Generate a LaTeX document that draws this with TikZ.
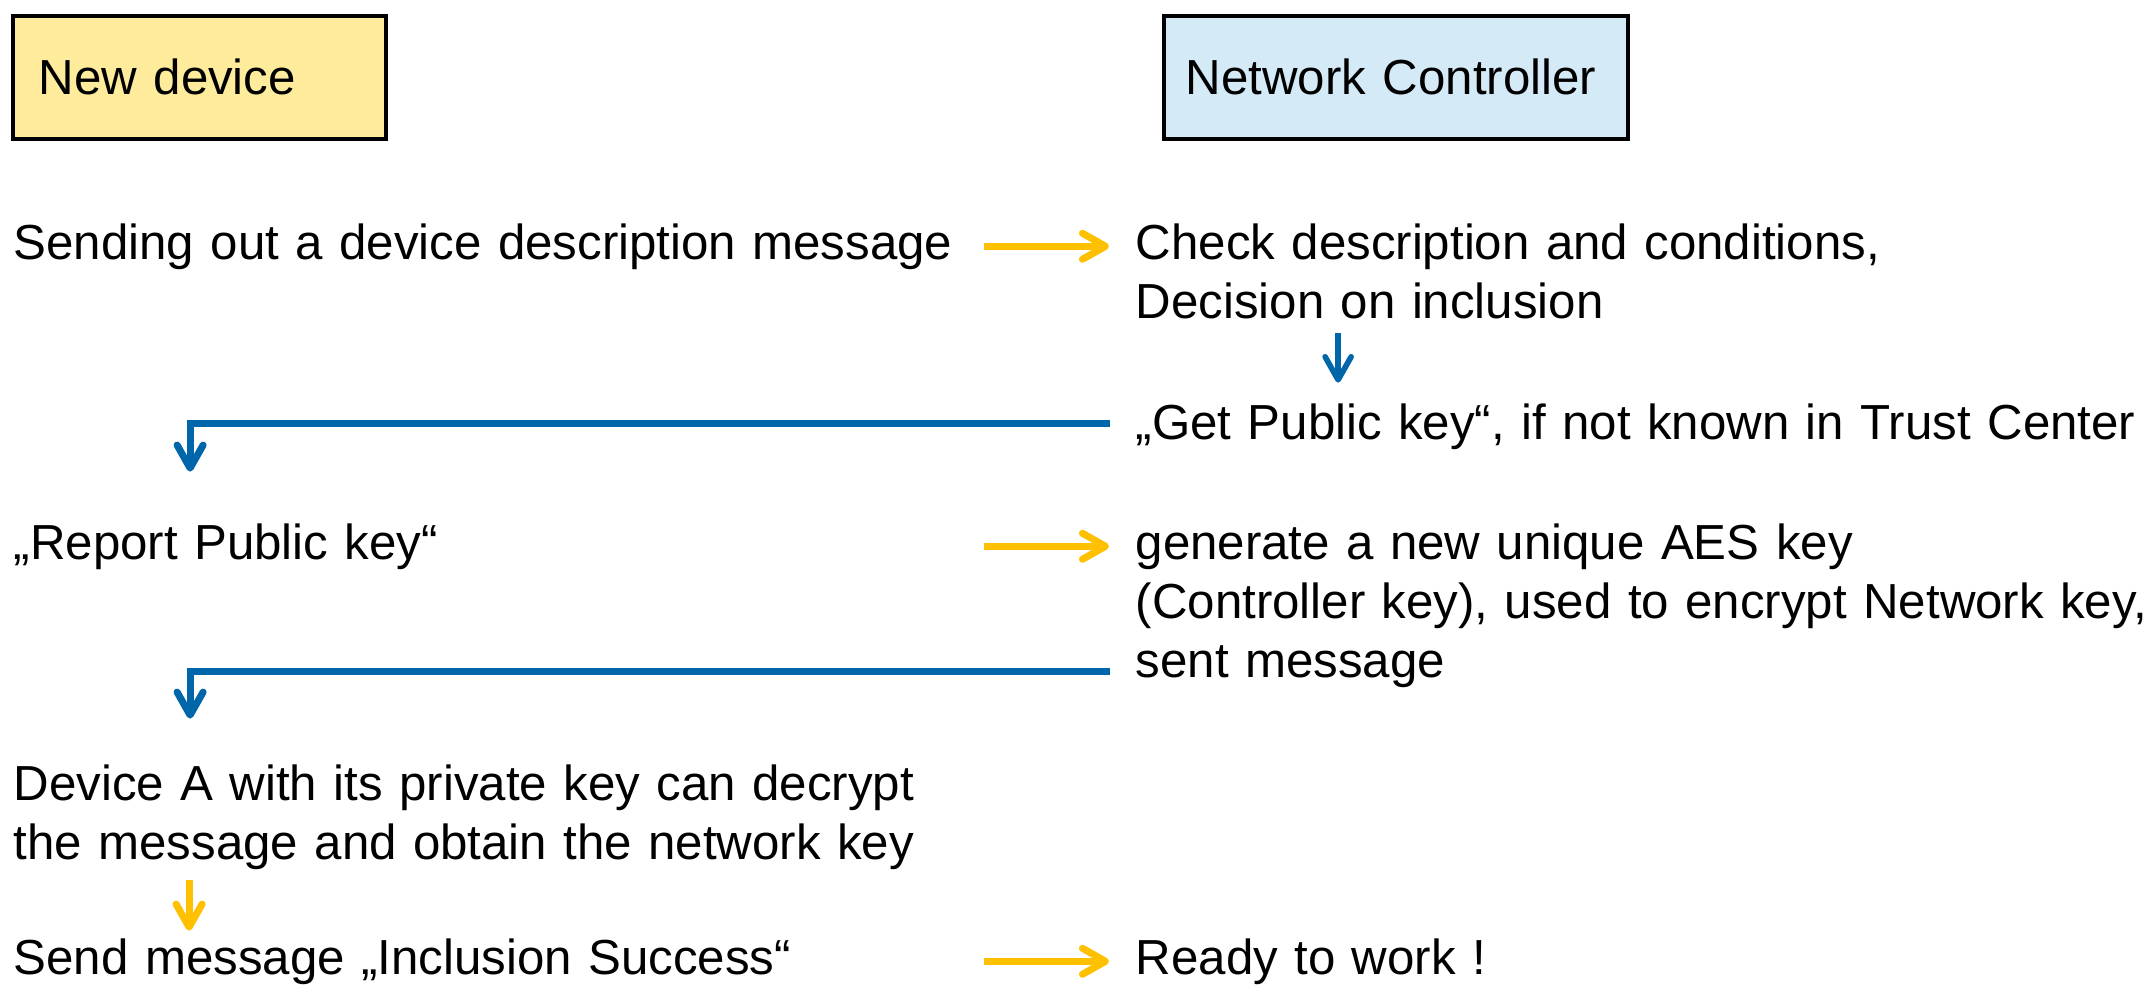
\documentclass[tikz,border=0pt]{standalone}
\usepackage{fontspec}
\setmainfont{Liberation Sans}
\usepackage{tikz}
\usetikzlibrary{arrows.meta, positioning}
\definecolor{devyellow}{RGB}{255,235,156}
\definecolor{ctrlblue}{RGB}{213,234,247}
\definecolor{arrowyellow}{RGB}{255,192,0}
\definecolor{arrowblue}{RGB}{0,102,170}
\tikzstyle{every node}=[font=\fontsize{14}{16.8}\selectfont]
\tikzstyle{hdr}=[draw,line width=1pt,anchor=north west,minimum height=1.23cm,inner ysep=0pt,align=left]
\tikzstyle{lft}=[anchor=base west,inner sep=0pt,text width=9.5cm,align=left]
\tikzstyle{rgt}=[anchor=base west,inner sep=0pt,text width=10.4cm,align=left]
\tikzstyle{ylw}=[->,draw=arrowyellow,line width=2pt]
\tikzstyle{blu}=[->,draw=arrowblue,line width=2pt]

\begin{document}
\begin{tikzpicture}[x=0.01cm,y=-0.01cm,>={Straight Barb[length=2.3mm,width=2.6mm,round]}]
  \useasboundingbox (0,0) rectangle (2152,987);
  \node[hdr, fill=devyellow, text width=3.21cm, inner xsep=0.26cm] (dev) at (11,14) {New device};
  \node[hdr, fill=ctrlblue, text width=4.2cm, inner xsep=0.22cm] (ctrl) at (1162,14) {Network Controller};
  \node[lft] (send) at (13,259) {Sending out a device description message};
  \node[rgt] (check) at (1135,259) {Check description and conditions,\\Decision on inclusion};
  \node[rgt] (getkey) at (1135,439) {„Get Public key“, if not known in Trust Center};
  \node[lft] (report) at (13,559) {„Report Public key“};
  \node[rgt] (gen) at (1135,559) {generate a new unique AES key\\(Controller key), used to encrypt Network key,\\sent message};
  \node[lft] (decrypt) at (13,800) {Device A with its private key can decrypt\\the message and obtain the network key};
  \node[lft] (success) at (13,974) {Send message „Inclusion Success“};
  \node[rgt] (ready) at (1135,974) {Ready to work !};
  \draw[ylw, shorten <=0.19cm, shorten >=0.26cm] (send.east) -- (send.east -| check.west);
  \draw[blu, line width=1.6pt, shorten <=0.14cm, shorten >=0.2cm] ([xshift=2.03cm]check.south west) -- ([xshift=2.03cm]getkey.north west);
  \draw[blu, shorten <=0.25cm, shorten >=0.51cm] ([yshift=0.03cm]getkey.west) -| ([xshift=1.77cm]report.north west);
  \draw[ylw, shorten <=0.19cm, shorten >=0.26cm] (report.east) -- (report.east -| gen.west);
  \draw[blu, shorten <=0.25cm, shorten >=0.45cm] ([yshift=0.17cm]gen.south west) -| ([xshift=1.77cm]decrypt.north west);
  \draw[ylw, shorten <=0.1cm, shorten >=0.07cm] ([xshift=1.76cm]decrypt.south west) -- ([xshift=1.76cm]success.north west);
  \draw[ylw, shorten <=0.19cm, shorten >=0.26cm] (success.east) -- (success.east -| ready.west);
\end{tikzpicture}
\end{document}
